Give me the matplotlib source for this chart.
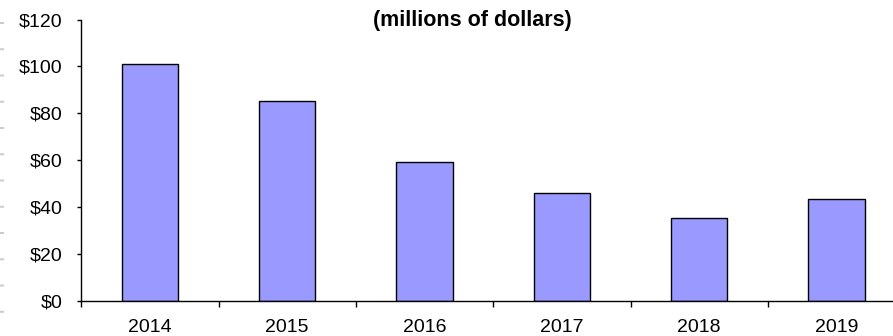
import numpy as np
import matplotlib
matplotlib.use('Agg')
import matplotlib.pyplot as plt
from matplotlib.lines import Line2D

plt.rcParams['font.family'] = ['Liberation Sans', 'DejaVu Sans']
plt.rcParams['lines.scale_dashes'] = False

years = ['2014', '2015', '2016', '2017', '2018', '2019']
values = [101.1, 85.3, 59.5, 46.3, 35.6, 43.4]
yticks = [0, 20, 40, 60, 80, 100, 120]
title = '(millions of dollars)'

W, H = 893, 336
fig = plt.figure(figsize=(W / 100, H / 100), dpi=100)

# axes runs a bit past the right edge, like the source
ax = fig.add_axes([81.3 / W, (H - 301.3) / H, 6 * 137.3 / W, (301.3 - 19.5) / H])

x = np.arange(len(years))
ax.bar(x, values, width=0.41, color='#9999ff', edgecolor='black', linewidth=1.0, zorder=2)

ax.set_xlim(-0.5, len(years) - 0.5)
ax.set_ylim(0, 120)
ax.set_yticks(yticks)
ax.set_yticklabels(['$%d' % v for v in yticks])
ax.set_xticks(x)
ax.set_xticklabels(years)
ax.set_xticks(np.arange(len(years) + 1) - 0.5, minor=True)

ax.tick_params(axis='y', direction='out', length=3, width=1, pad=10.5, labelsize=14)
ax.tick_params(axis='x', which='major', length=0, pad=12.5, labelsize=14)
ax.tick_params(axis='x', which='minor', direction='out', length=4, width=1)

for s in ['top', 'right']:
    ax.spines[s].set_visible(False)
for s in ['left', 'bottom']:
    ax.spines[s].set_linewidth(1.0)

fig.text(472 / W, 1 - 26 / H, title, ha='center', va='baseline',
         fontsize=15.5, fontweight='bold')

# faint marks along the left edge
P = 26.25 * 0.72
edge = Line2D([1.5 / W, 1.5 / W], [1, 0], transform=fig.transFigure,
              color='#cccccc', linewidth=3, dash_capstyle='butt')
edge.set_linestyle((P - 22 * 0.72, (1.44, P - 1.44)))
fig.add_artist(edge)

fig.savefig('out.png', dpi=100)
